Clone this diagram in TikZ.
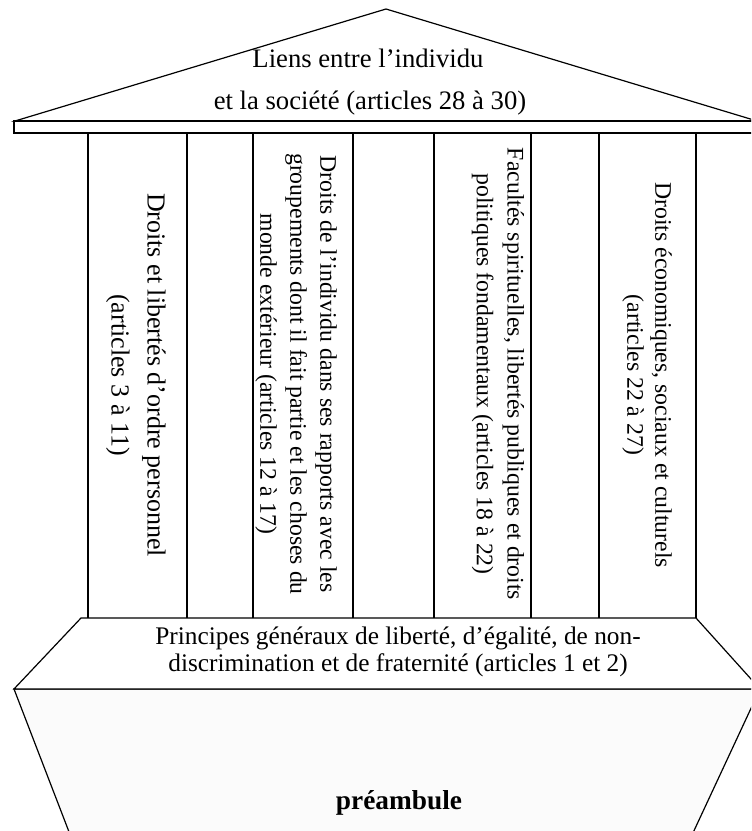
\documentclass[tikz,border=0pt]{standalone}
\usepackage{fontspec}
\setmainfont{Liberation Serif}
\begin{document}
\begin{tikzpicture}[x=0.75pt,y=-0.75pt,
  edge/.style={draw=black,line width=0.9pt,line join=miter},
  coltext/.style={rotate=-90,align=center,inner sep=0pt},
  flat/.style={align=center,inner sep=0pt,anchor=base}]
\useasboundingbox (0,0) rectangle (751,831);
\clip (0,0) rectangle (751,831);
% preamble block
\path[edge,fill=black!1.5] (14,689) -- (760,689) -- (685,850) -- (76,850) -- cycle;
% principes block
\path[edge,fill=white] (81,618) -- (696,618) -- (760,689) -- (14,689) -- cycle;
% roof
\path[edge,fill=white] (15,121) -- (386,9) -- (757,121) -- cycle;
% entablature
\path[edge,fill=white] (14,121) rectangle (760,133);
% columns
\foreach \cx in {88,187,253,353,434,531,599,696}
  \draw[edge] (\cx,133) -- (\cx,618);
% texts
\node[flat,font=\fontsize{20}{24}\selectfont] (roof1) at (368,68) {Liens entre l’individu};
\node[flat,font=\fontsize{20}{24}\selectfont] (roof2) at (370,110) {et la société (articles 28 à 30)};
\node[coltext,font=\fontsize{19.5}{27}\selectfont] (c1) at (136,375)
  {Droits et libertés d’ordre personnel\\(articles 3 à 11)};
\node[coltext,font=\fontsize{17.8}{22.5}\selectfont] (c3) at (296,374)
  {Droits de l’individu dans ses rapports avec les\\groupements dont il fait partie et les choses du\\monde extérieur (articles 12 à 17)};
\node[coltext,font=\fontsize{17.8}{23}\selectfont] (c5) at (498,374)
  {Facultés spirituelles, libertés publiques et droits\\politiques fondamentaux (articles 18 à 22)};
\node[coltext,font=\fontsize{17.8}{21}\selectfont] (c7) at (647,375)
  {Droits économiques, sociaux et culturels\\(articles 22 à 27)};
\node[flat,font=\fontsize{19}{23}\selectfont] (pr1) at (398,644) {Principes généraux de liberté, d’égalité, de non-};
\node[flat,font=\fontsize{19}{23}\selectfont] (pr2) at (398,671) {discrimination et de fraternité (articles 1 et 2)};
\node[flat,font=\fontsize{20.5}{24}\selectfont\bfseries] (pre) at (399,809) {préambule};
\end{tikzpicture}
\end{document}
